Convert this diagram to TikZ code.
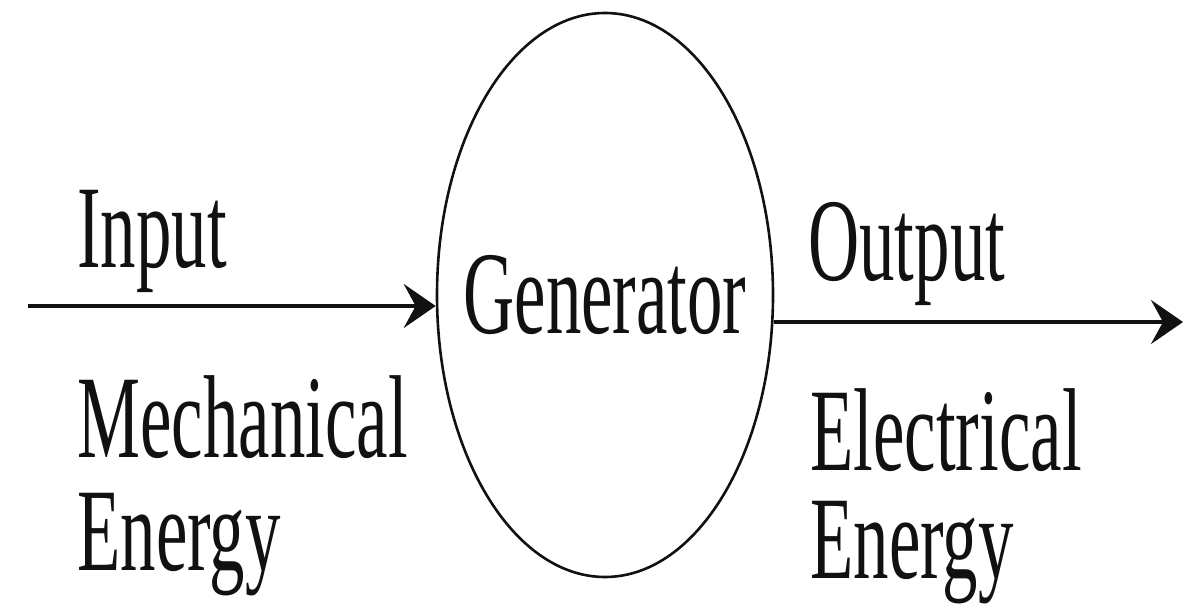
\documentclass[tikz,border=0pt]{standalone}
\usepackage{fontspec}
\setmainfont{Liberation Serif}
\usetikzlibrary{arrows.meta, shapes.geometric}
\definecolor{ink}{HTML}{111111}
\newcommand{\narrow}[1]{\scalebox{0.6}[1]{#1}}
\tikzset{
  genbox/.style={
    draw=ink, line width=1.3pt, ellipse,
    minimum width=168pt, minimum height=282pt, inner sep=0pt
  },
  lbl/.style={anchor=base west, inner sep=0pt, text=ink,
    font=\fontsize{59}{70}\selectfont},
  flow/.style={draw=ink, line width=1.6pt,
    -{Stealth[length=16pt, width=22pt, inset=6pt]}}
}

\begin{document}
\begin{tikzpicture}[x=0.5pt, y=-0.5pt]
  \useasboundingbox (0,0) rectangle (1183,615);

  % ---- The machine -------------------------------------------------------
  \node[genbox] (gen) at (605,295) {};
  \node[lbl, anchor=center] (gentxt) at (gen.center) {\narrow{Generator}};

  % ---- Input side, left of the machine -----------------------------------
  \coordinate (in) at (28,306);
  \node[lbl] (inlbl) at (77,267) {\narrow{Input}};
  \node[lbl] (mech) at (77,457) {\narrow{Mechanical}};
  \node[lbl] (mechE) at (77,570) {\narrow{Energy}};

  % ---- Output side, right of the machine ---------------------------------
  \coordinate (out) at (1183,322);
  \node[lbl] (outlbl) at (808,280) {\narrow{Output}};
  \node[lbl] (elec) at (810,470) {\narrow{Electrical}};
  \node[lbl] (elecE) at (810,578) {\narrow{Energy}};

  % ---- Energy flow --------------------------------------------------------
  \draw[flow] (in) -- (in -| gen.west);
  \draw[flow] (out -| gen.east) -- (out);

\end{tikzpicture}
\end{document}
